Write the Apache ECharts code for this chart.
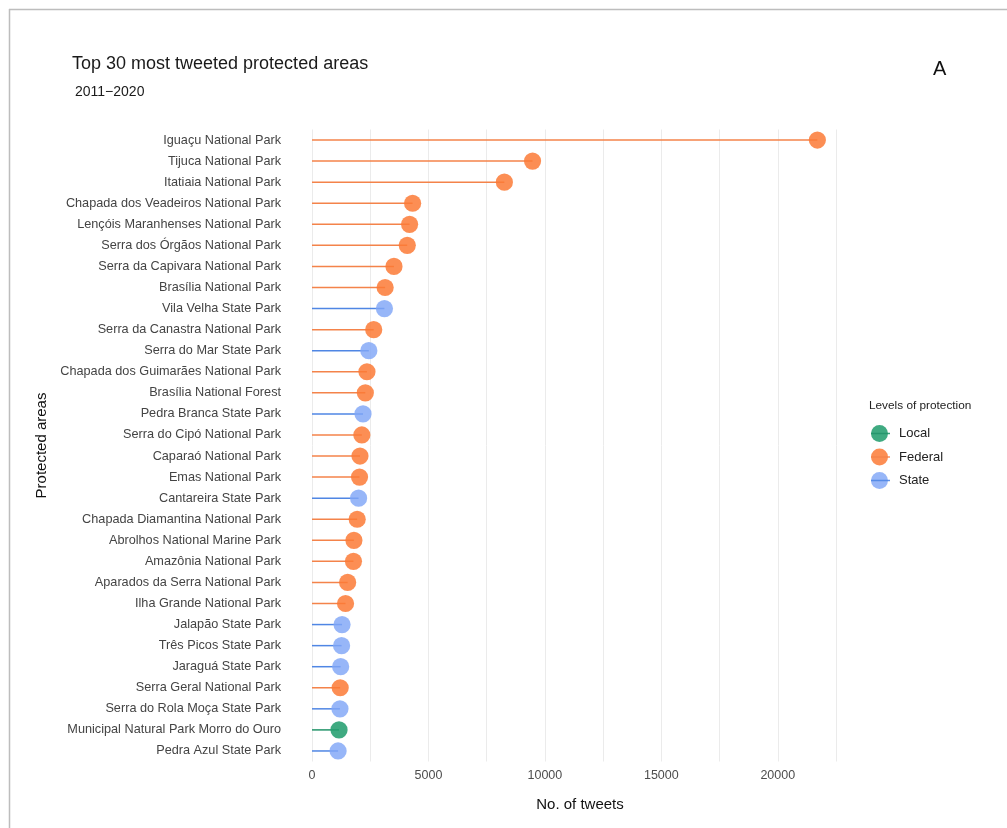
<!DOCTYPE html>
<html>
<head>
<meta charset="utf-8">
<script src="https://cdn.jsdelivr.net/npm/echarts@6/dist/echarts.min.js"></script>
<style>
html,body{margin:0;padding:0;background:#fff;}
#chart{width:1007px;height:828px;}
</style>
</head>
<body>
<div id="chart"></div>
<script>
const areas = [
  "Iguaçu National Park","Tijuca National Park","Itatiaia National Park",
  "Chapada dos Veadeiros National Park","Lençóis Maranhenses National Park",
  "Serra dos Órgãos National Park","Serra da Capivara National Park",
  "Brasília National Park","Vila Velha State Park","Serra da Canastra National Park",
  "Serra do Mar State Park","Chapada dos Guimarães National Park",
  "Brasília National Forest","Pedra Branca State Park","Serra do Cipó National Park",
  "Caparaó National Park","Emas National Park","Cantareira State Park",
  "Chapada Diamantina National Park","Abrolhos National Marine Park",
  "Amazônia National Park","Aparados da Serra National Park",
  "Ilha Grande National Park","Jalapão State Park","Três Picos State Park",
  "Jaraguá State Park","Serra Geral National Park","Serra do Rola Moça State Park",
  "Municipal Natural Park Morro do Ouro","Pedra Azul State Park"
];
const tweets = [21700, 9470, 8260, 4320, 4190, 4090, 3520, 3140, 3110, 2650,
  2440, 2360, 2290, 2190, 2140, 2060, 2040, 2000, 1940, 1800,
  1780, 1530, 1440, 1290, 1270, 1230, 1210, 1200, 1160, 1120];
const levels = ["Federal","Federal","Federal","Federal","Federal","Federal","Federal","Federal","State","Federal",
  "State","Federal","Federal","State","Federal","Federal","Federal","State","Federal","Federal",
  "Federal","Federal","Federal","State","State","State","Federal","State","Local","State"];
const levelNames = ["Local","Federal","State"];
const xTicks = [0, 5000, 10000, 15000, 20000];

const FONT = "'Liberation Sans', Arial, Helvetica, sans-serif";
const styles = {
  Local:   {dot: 'rgba(36,158,112,0.88)', stem: '#23946a'},
  Federal: {dot: 'rgba(252,122,54,0.85)', stem: '#f4834a'},
  State:   {dot: 'rgba(128,166,246,0.82)', stem: '#4f86e4'}
};

const series = levelNames.map(lv => ({
  type: 'custom',
  name: lv,
  coordinateSystem: 'cartesian2d',
  encode: {x: 0, y: 1},
  data: tweets.map((v, i) => levels[i] === lv ? [v, i] : null).filter(d => d),
  renderItem: function (params, api) {
    const v = api.value(0), c = api.value(1);
    const p0 = api.coord([0, c]);
    const p1 = api.coord([v, c]);
    return {
      type: 'group',
      children: [
        {type: 'line', shape: {x1: p0[0], y1: p0[1], x2: p1[0], y2: p1[1]},
         style: {stroke: styles[lv].stem, lineWidth: 1.5}},
        {type: 'circle', shape: {cx: p1[0], cy: p1[1], r: 8.6},
         style: {fill: styles[lv].dot}}
      ]
    };
  }
}));

const legendBase = {
  orient: 'vertical', left: 866, top: 420,
  itemWidth: 19, itemHeight: 17, itemGap: 6.5,
  selectedMode: false
};

const chart = echarts.init(document.getElementById('chart'), null, {renderer: 'canvas'});
chart.setOption({
  backgroundColor: '#ffffff',
  animation: false,
  textStyle: {fontFamily: FONT},
  title: [
    {text: 'Top 30 most tweeted protected areas', left: 67, top: 50,
     textStyle: {fontFamily: FONT, fontSize: 18, fontWeight: 'normal', color: '#1a1a1a'}},
    {text: '2011\u22122020', left: 70, top: 80,
     textStyle: {fontFamily: FONT, fontSize: 14, fontWeight: 'normal', color: '#1a1a1a'}},
    {text: 'A', left: 928, top: 54,
     textStyle: {fontFamily: FONT, fontSize: 20, fontWeight: 'normal', color: '#111'}},
    {text: 'Levels of protection', left: 864, top: 395,
     textStyle: {fontFamily: FONT, fontSize: 11.8, fontWeight: 'normal', color: '#222'}}
  ],
  legend: [
    Object.assign({}, legendBase, {
      z: 1,
      data: levelNames.map(n => ({name: n, icon: 'circle', itemStyle: {color: styles[n].dot}})),
      textStyle: {fontFamily: FONT, fontSize: 13, color: '#222', lineHeight: 17, padding: [0, 0, 0, 5]}
    }),
    Object.assign({}, legendBase, {
      z: 10,
      data: levelNames.map(n => ({name: n, icon: 'path://M0,0L19,0L19,1.5L0,1.5Z', itemStyle: {color: styles[n].stem, opacity: 0.9}})),
      textStyle: {fontFamily: FONT, fontSize: 13, color: 'rgba(0,0,0,0)', lineHeight: 17, padding: [0, 0, 0, 5]}
    })
  ],
  grid: {left: 312, right: 171, top: 129.5, bottom: 66.5, containLabel: false},
  xAxis: {
    type: 'value', min: 0, max: 22500, interval: 2500,
    name: 'No. of tweets', nameLocation: 'middle', nameGap: 36,
    nameTextStyle: {fontFamily: FONT, fontSize: 15, color: '#111', padding: [0, 0, 0, 12]},
    axisLine: {show: false}, axisTick: {show: false},
    axisLabel: {
      fontFamily: FONT, fontSize: 12.5, color: '#4d4d4d', margin: 8,
      formatter: v => (xTicks.indexOf(v) >= 0 ? String(v) : '')
    },
    splitLine: {show: true, lineStyle: {color: '#ebebeb', width: 1}}
  },
  yAxis: {
    type: 'category', data: areas, inverse: true,
    name: 'Protected areas', nameLocation: 'middle', nameGap: 262, nameRotate: 90,
    nameTextStyle: {fontFamily: FONT, fontSize: 15, color: '#111'},
    axisLine: {show: false}, axisTick: {show: false},
    axisLabel: {fontFamily: FONT, fontSize: 12.7, color: '#444', margin: 31, interval: 0},
    splitLine: {show: false}
  },
  graphic: [
    {type: 'line', shape: {x1: 9, y1: 9.5, x2: 1007, y2: 9.5}, style: {stroke: '#bdbdbd', lineWidth: 1.5}, silent: true},
    {type: 'line', shape: {x1: 9.5, y1: 9, x2: 9.5, y2: 828}, style: {stroke: '#bdbdbd', lineWidth: 1.5}, silent: true}
  ],
  series: series
});
</script>
</body>
</html>
